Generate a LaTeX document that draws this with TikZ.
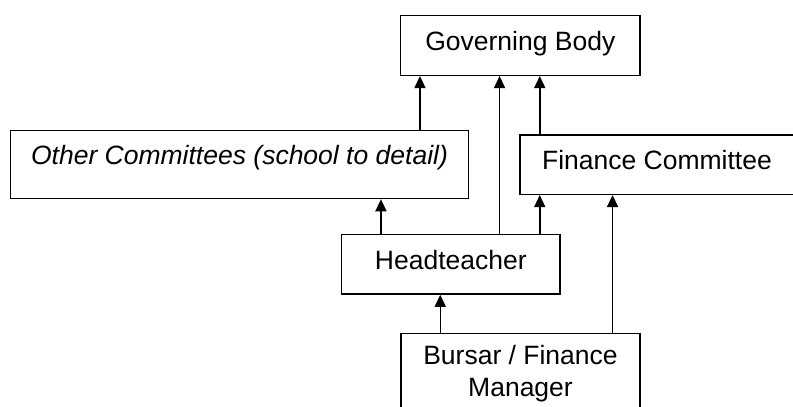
\documentclass[tikz,border=0pt]{standalone}
\usepackage{fontspec}
\setmainfont{Liberation Sans}
\usetikzlibrary{arrows.meta}
\tikzstyle{unit} = [rectangle, draw=black, line width=0.75pt, inner sep=0pt, text height=9.5pt, text depth=4.3pt, font=\fontsize{13.25}{15.9}\selectfont]
\tikzstyle{staff} = [rectangle, draw=black, line width=0.75pt, inner sep=0pt, align=center, font=\fontsize{13.25}{15.9}\selectfont]
\tikzstyle{arrow} = [line width=0.75pt,-{Triangle[length=6pt,width=5.5pt]}]

\begin{document}
\begin{tikzpicture}[x=0.5pt, y=-0.5pt]
  \useasboundingbox (0,0) rectangle (793,407);
  \node (gb) [unit, minimum width=119.65pt, minimum height=29.8pt] at (520.35,45.5) {Governing Body};
  \node (oc) [unit, minimum width=228.8pt, minimum height=33.9pt, text depth=9.5pt, font=\fontsize{13.25}{15.9}\selectfont\itshape] at (239.5,164.6) {Other Committees (school to detail)};
  \node (fc) [unit, minimum width=137pt, minimum height=29.65pt] at (657,164.65) {Finance Committee};
  \node (ht) [unit, minimum width=109.15pt, minimum height=29.85pt] at (450.85,264.15) {Headteacher};
  \node (bm) [staff, minimum width=119.5pt, minimum height=40pt] at (520.5,373.7) {Bursar / Finance\\Manager};

  \draw [arrow] ([xshift=205pt]oc.north west) -- ([xshift=205pt]oc.north west |- gb.south);
  \draw [arrow] ([xshift=79.3pt]ht.north west) -- ([xshift=79.3pt]ht.north west |- gb.south);
  \draw [arrow] ([xshift=10.25pt]fc.north west) -- ([xshift=10.25pt]fc.north west |- gb.south);
  \draw [arrow] ([xshift=20pt]ht.north west) -- ([xshift=20pt]ht.north west |- oc.south);
  \draw [arrow] ([xshift=10.25pt]fc.south west |- ht.north) -- ([xshift=10.25pt]fc.south west);
  \draw [arrow] ([xshift=20pt]bm.north west) -- ([xshift=20pt]bm.north west |- ht.south);
  \draw [arrow] ([xshift=106.15pt]bm.north west) -- ([xshift=106.15pt]bm.north west |- fc.south);
\end{tikzpicture}
\end{document}
